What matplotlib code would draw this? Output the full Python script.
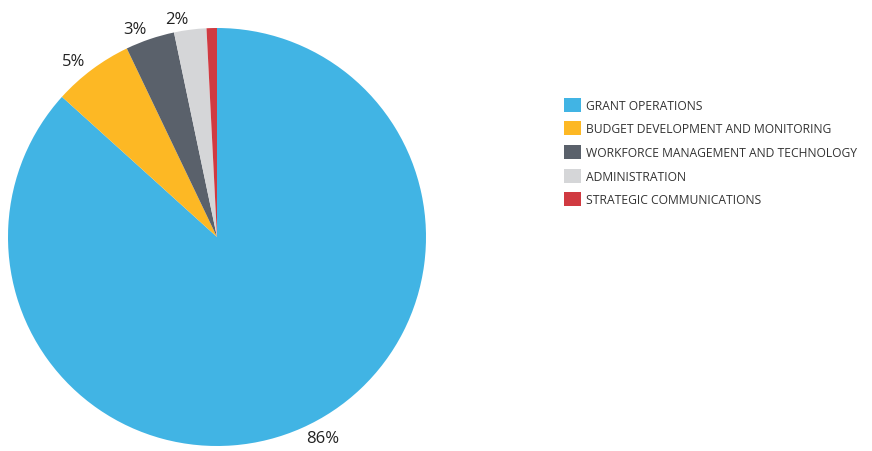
import matplotlib.pyplot as plt
from matplotlib.patches import Patch

plt.rcParams['font.family'] = ['Open Sans', 'DejaVu Sans']

categories = ['GRANT OPERATIONS', 'BUDGET DEVELOPMENT AND MONITORING',
              'WORKFORCE MANAGEMENT AND TECHNOLOGY', 'ADMINISTRATION',
              'STRATEGIC COMMUNICATIONS']
shares = [86.7, 6.2, 3.8, 2.5, 0.8]
pct_labels = ['86%', '5%', '3%', '2%', '']
colors = ['#41B4E4', '#FDB824', '#5A616B', '#D5D6D8', '#D03A41']

fig = plt.figure(figsize=(8.72, 4.52), dpi=100)
# pie axes: centre ~ (217, 238) px, radius ~209 px
ax = fig.add_axes([8 / 872, 5 / 452, 418 / 872, 418 / 452])
wedges, texts = ax.pie(shares, labels=pct_labels, colors=colors,
                       startangle=90, counterclock=False, radius=1,
                       labeldistance=1.05,
                       wedgeprops=dict(linewidth=0),
                       textprops=dict(fontsize=12, color='#222222'))
ax.set_xlim(-1, 1)
ax.set_ylim(-1, 1)
ax.set_aspect('equal')
ax.axis('off')

handles = [Patch(facecolor=c, edgecolor='none') for c in colors]
fig.legend(handles, categories, loc='upper left',
           bbox_to_anchor=(559 / 872, 1 - 94 / 452), frameon=False,
           fontsize=8.7, labelcolor='#333333', handlelength=1.4,
           handleheight=1.4, handletextpad=0.45, labelspacing=0.8,
           borderaxespad=0)

plt.savefig('out.png', dpi=100)
